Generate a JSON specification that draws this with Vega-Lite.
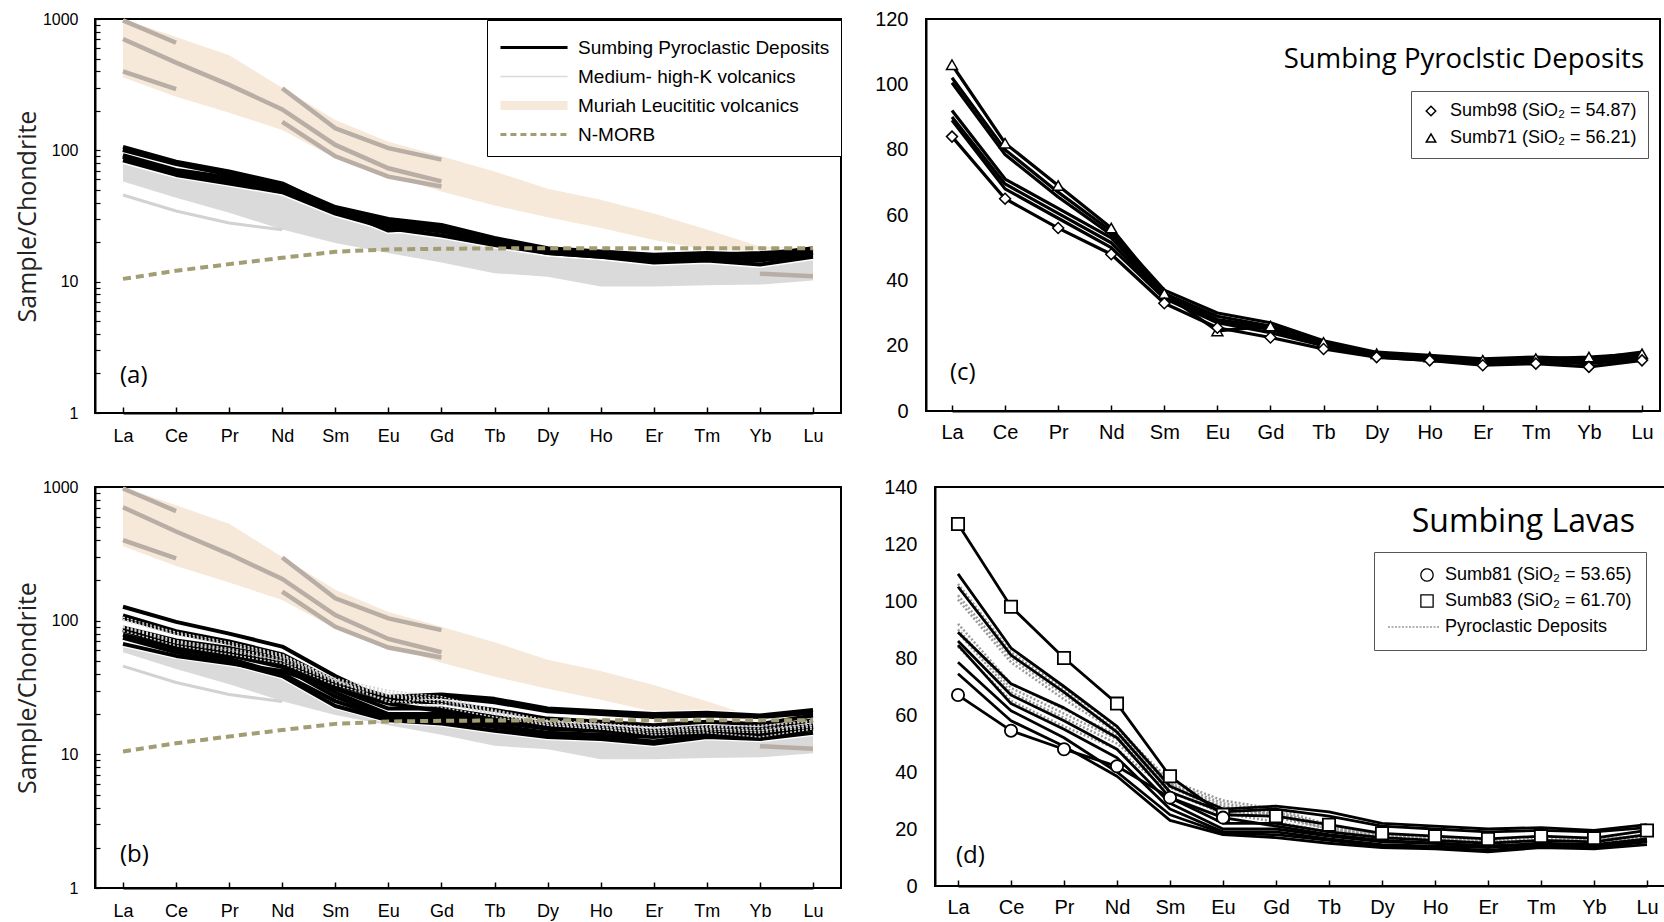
{
"$schema":"https://vega.github.io/schema/vega-lite/v6.json",
"background":"white",
"padding":{"left":14,"top":8,"right":0,"bottom":0},
"datasets":{
"muriahBand":[{"el":"La","lo":360,"hi":1000},{"el":"Ce","lo":256,"hi":730},{"el":"Pr","lo":193,"hi":530},{"el":"Nd","lo":143,"hi":300},{"el":"Sm","lo":87,"hi":170},{"el":"Eu","lo":65,"hi":116},{"el":"Gd","lo":48.5,"hi":90},{"el":"Tb","lo":38,"hi":69},{"el":"Dy","lo":31,"hi":51},{"el":"Ho","lo":25.6,"hi":42},{"el":"Er","lo":20.8,"hi":33},{"el":"Tm","lo":17.4,"hi":25},{"el":"Yb","lo":13.9,"hi":18.5},{"el":"Lu","lo":10.9,"hi":18}],
"mhkBand":[{"el":"La","lo":58,"hi":84},{"el":"Ce","lo":43.5,"hi":68},{"el":"Pr","lo":33.5,"hi":58},{"el":"Nd","lo":25,"hi":47},{"el":"Sm","lo":19.7,"hi":34},{"el":"Eu","lo":16.5,"hi":27},{"el":"Gd","lo":14,"hi":24},{"el":"Tb","lo":11.6,"hi":20},{"el":"Dy","lo":10.9,"hi":17.5},{"el":"Ho","lo":9.2,"hi":16.5},{"el":"Er","lo":9.2,"hi":15.5},{"el":"Tm","lo":9.4,"hi":15.5},{"el":"Yb","lo":9.5,"hi":15},{"el":"Lu","lo":10.2,"hi":16}],
"mhkLine":[{"el":"La","v":45.7},{"el":"Ce","v":34.5},{"el":"Pr","v":28},{"el":"Nd","v":24.8}],
"muriahLines":[{"s":"A","el":"La","v":975},{"s":"A","el":"Ce","v":660},
{"s":"B","el":"La","v":705},{"s":"B","el":"Ce","v":465},{"s":"B","el":"Pr","v":315},{"s":"B","el":"Nd","v":205},{"s":"B","el":"Sm","v":110},{"s":"B","el":"Eu","v":73},{"s":"B","el":"Gd","v":58},
{"s":"C","el":"La","v":400},{"s":"C","el":"Ce","v":292},
{"s":"D","el":"Nd","v":297},{"s":"D","el":"Sm","v":147},{"s":"D","el":"Eu","v":104},{"s":"D","el":"Gd","v":85},
{"s":"E","el":"Nd","v":165},{"s":"E","el":"Sm","v":90},{"s":"E","el":"Eu","v":63},{"s":"E","el":"Gd","v":53},
{"s":"F","el":"Yb","v":11.5},{"s":"F","el":"Lu","v":11}],
"nmorb":[{"el":"La","v":10.5},{"el":"Ce","v":12.1},{"el":"Pr","v":13.6},{"el":"Nd","v":15.2},{"el":"Sm","v":16.9},{"el":"Eu","v":17.6},{"el":"Gd","v":17.8},{"el":"Tb","v":17.9},{"el":"Dy","v":18},{"el":"Ho","v":18},{"el":"Er","v":18},{"el":"Tm","v":18},{"el":"Yb","v":18},{"el":"Lu","v":18}],
"pyro":[
{"s":"Sumb71 (SiO₂ = 56.21)","el":"La","v":106},{"s":"Sumb71 (SiO₂ = 56.21)","el":"Ce","v":82},{"s":"Sumb71 (SiO₂ = 56.21)","el":"Pr","v":69},{"s":"Sumb71 (SiO₂ = 56.21)","el":"Nd","v":56},{"s":"Sumb71 (SiO₂ = 56.21)","el":"Sm","v":36},{"s":"Sumb71 (SiO₂ = 56.21)","el":"Eu","v":24.5},{"s":"Sumb71 (SiO₂ = 56.21)","el":"Gd","v":26},{"s":"Sumb71 (SiO₂ = 56.21)","el":"Tb","v":21},{"s":"Sumb71 (SiO₂ = 56.21)","el":"Dy","v":17.5},{"s":"Sumb71 (SiO₂ = 56.21)","el":"Ho","v":16.5},{"s":"Sumb71 (SiO₂ = 56.21)","el":"Er","v":15.5},{"s":"Sumb71 (SiO₂ = 56.21)","el":"Tm","v":16},{"s":"Sumb71 (SiO₂ = 56.21)","el":"Yb","v":16.5},{"s":"Sumb71 (SiO₂ = 56.21)","el":"Lu","v":17.5},
{"s":"P2","el":"La","v":102},{"s":"P2","el":"Ce","v":80},{"s":"P2","el":"Pr","v":67},{"s":"P2","el":"Nd","v":55},{"s":"P2","el":"Sm","v":37},{"s":"P2","el":"Eu","v":30},{"s":"P2","el":"Gd","v":27},{"s":"P2","el":"Tb","v":21.5},{"s":"P2","el":"Dy","v":18},{"s":"P2","el":"Ho","v":17},{"s":"P2","el":"Er","v":16},{"s":"P2","el":"Tm","v":16.5},{"s":"P2","el":"Yb","v":16},{"s":"P2","el":"Lu","v":18},
{"s":"P3","el":"La","v":100.5},{"s":"P3","el":"Ce","v":78.5},{"s":"P3","el":"Pr","v":65.5},{"s":"P3","el":"Nd","v":54},{"s":"P3","el":"Sm","v":36},{"s":"P3","el":"Eu","v":29},{"s":"P3","el":"Gd","v":26},{"s":"P3","el":"Tb","v":21},{"s":"P3","el":"Dy","v":17.5},{"s":"P3","el":"Ho","v":16.5},{"s":"P3","el":"Er","v":15.5},{"s":"P3","el":"Tm","v":16},{"s":"P3","el":"Yb","v":15.5},{"s":"P3","el":"Lu","v":17},
{"s":"P4","el":"La","v":92},{"s":"P4","el":"Ce","v":71},{"s":"P4","el":"Pr","v":62},{"s":"P4","el":"Nd","v":53},{"s":"P4","el":"Sm","v":35.5},{"s":"P4","el":"Eu","v":28},{"s":"P4","el":"Gd","v":25.5},{"s":"P4","el":"Tb","v":20.5},{"s":"P4","el":"Dy","v":17},{"s":"P4","el":"Ho","v":16},{"s":"P4","el":"Er","v":15},{"s":"P4","el":"Tm","v":15.5},{"s":"P4","el":"Yb","v":15},{"s":"P4","el":"Lu","v":16.5},
{"s":"P5","el":"La","v":90},{"s":"P5","el":"Ce","v":69.5},{"s":"P5","el":"Pr","v":60.5},{"s":"P5","el":"Nd","v":51.5},{"s":"P5","el":"Sm","v":35},{"s":"P5","el":"Eu","v":27.5},{"s":"P5","el":"Gd","v":25},{"s":"P5","el":"Tb","v":20},{"s":"P5","el":"Dy","v":17},{"s":"P5","el":"Ho","v":16},{"s":"P5","el":"Er","v":15},{"s":"P5","el":"Tm","v":15.5},{"s":"P5","el":"Yb","v":15},{"s":"P5","el":"Lu","v":16.5},
{"s":"P6","el":"La","v":89},{"s":"P6","el":"Ce","v":68},{"s":"P6","el":"Pr","v":59},{"s":"P6","el":"Nd","v":50},{"s":"P6","el":"Sm","v":34.5},{"s":"P6","el":"Eu","v":27},{"s":"P6","el":"Gd","v":24},{"s":"P6","el":"Tb","v":20},{"s":"P6","el":"Dy","v":16.5},{"s":"P6","el":"Ho","v":15.5},{"s":"P6","el":"Er","v":14.5},{"s":"P6","el":"Tm","v":15},{"s":"P6","el":"Yb","v":14.5},{"s":"P6","el":"Lu","v":16},
{"s":"Sumb98 (SiO₂ = 54.87)","el":"La","v":84},{"s":"Sumb98 (SiO₂ = 54.87)","el":"Ce","v":65},{"s":"Sumb98 (SiO₂ = 54.87)","el":"Pr","v":56},{"s":"Sumb98 (SiO₂ = 54.87)","el":"Nd","v":48},{"s":"Sumb98 (SiO₂ = 54.87)","el":"Sm","v":33},{"s":"Sumb98 (SiO₂ = 54.87)","el":"Eu","v":25.5},{"s":"Sumb98 (SiO₂ = 54.87)","el":"Gd","v":22.5},{"s":"Sumb98 (SiO₂ = 54.87)","el":"Tb","v":19},{"s":"Sumb98 (SiO₂ = 54.87)","el":"Dy","v":16.5},{"s":"Sumb98 (SiO₂ = 54.87)","el":"Ho","v":15.5},{"s":"Sumb98 (SiO₂ = 54.87)","el":"Er","v":14},{"s":"Sumb98 (SiO₂ = 54.87)","el":"Tm","v":14.5},{"s":"Sumb98 (SiO₂ = 54.87)","el":"Yb","v":13.5},{"s":"Sumb98 (SiO₂ = 54.87)","el":"Lu","v":15.5}],
"lava":[
{"s":"Sumb83 (SiO₂ = 61.70)","el":"La","v":127},{"s":"Sumb83 (SiO₂ = 61.70)","el":"Ce","v":98},{"s":"Sumb83 (SiO₂ = 61.70)","el":"Pr","v":80},{"s":"Sumb83 (SiO₂ = 61.70)","el":"Nd","v":64},{"s":"Sumb83 (SiO₂ = 61.70)","el":"Sm","v":38.5},{"s":"Sumb83 (SiO₂ = 61.70)","el":"Eu","v":25},{"s":"Sumb83 (SiO₂ = 61.70)","el":"Gd","v":24.5},{"s":"Sumb83 (SiO₂ = 61.70)","el":"Tb","v":21.5},{"s":"Sumb83 (SiO₂ = 61.70)","el":"Dy","v":18.5},{"s":"Sumb83 (SiO₂ = 61.70)","el":"Ho","v":17.5},{"s":"Sumb83 (SiO₂ = 61.70)","el":"Er","v":16.5},{"s":"Sumb83 (SiO₂ = 61.70)","el":"Tm","v":17.5},{"s":"Sumb83 (SiO₂ = 61.70)","el":"Yb","v":16.8},{"s":"Sumb83 (SiO₂ = 61.70)","el":"Lu","v":19.5},
{"s":"L2","el":"La","v":109.5},{"s":"L2","el":"Ce","v":83.5},{"s":"L2","el":"Pr","v":70},{"s":"L2","el":"Nd","v":56},{"s":"L2","el":"Sm","v":35},{"s":"L2","el":"Eu","v":27},{"s":"L2","el":"Gd","v":28},{"s":"L2","el":"Tb","v":26},{"s":"L2","el":"Dy","v":22},{"s":"L2","el":"Ho","v":21},{"s":"L2","el":"Er","v":20},{"s":"L2","el":"Tm","v":20.5},{"s":"L2","el":"Yb","v":19.5},{"s":"L2","el":"Lu","v":21.5},
{"s":"L3","el":"La","v":105},{"s":"L3","el":"Ce","v":81},{"s":"L3","el":"Pr","v":68},{"s":"L3","el":"Nd","v":54},{"s":"L3","el":"Sm","v":33},{"s":"L3","el":"Eu","v":26},{"s":"L3","el":"Gd","v":27},{"s":"L3","el":"Tb","v":24.5},{"s":"L3","el":"Dy","v":21},{"s":"L3","el":"Ho","v":20},{"s":"L3","el":"Er","v":19},{"s":"L3","el":"Tm","v":19.5},{"s":"L3","el":"Yb","v":19},{"s":"L3","el":"Lu","v":20.5},
{"s":"L4","el":"La","v":89},{"s":"L4","el":"Ce","v":71},{"s":"L4","el":"Pr","v":62.5},{"s":"L4","el":"Nd","v":52},{"s":"L4","el":"Sm","v":31},{"s":"L4","el":"Eu","v":22},{"s":"L4","el":"Gd","v":22},{"s":"L4","el":"Tb","v":19},{"s":"L4","el":"Dy","v":17},{"s":"L4","el":"Ho","v":16},{"s":"L4","el":"Er","v":15},{"s":"L4","el":"Tm","v":16},{"s":"L4","el":"Yb","v":15.5},{"s":"L4","el":"Lu","v":18},
{"s":"L5","el":"La","v":86},{"s":"L5","el":"Ce","v":67},{"s":"L5","el":"Pr","v":58},{"s":"L5","el":"Nd","v":48},{"s":"L5","el":"Sm","v":29},{"s":"L5","el":"Eu","v":20},{"s":"L5","el":"Gd","v":20},{"s":"L5","el":"Tb","v":17.5},{"s":"L5","el":"Dy","v":15.5},{"s":"L5","el":"Ho","v":15},{"s":"L5","el":"Er","v":14},{"s":"L5","el":"Tm","v":15},{"s":"L5","el":"Yb","v":14.5},{"s":"L5","el":"Lu","v":16.5},
{"s":"L6","el":"La","v":84.5},{"s":"L6","el":"Ce","v":64},{"s":"L6","el":"Pr","v":55},{"s":"L6","el":"Nd","v":45},{"s":"L6","el":"Sm","v":27},{"s":"L6","el":"Eu","v":19},{"s":"L6","el":"Gd","v":19},{"s":"L6","el":"Tb","v":16.5},{"s":"L6","el":"Dy","v":14.5},{"s":"L6","el":"Ho","v":14},{"s":"L6","el":"Er","v":13.5},{"s":"L6","el":"Tm","v":14.5},{"s":"L6","el":"Yb","v":14},{"s":"L6","el":"Lu","v":16},
{"s":"L7","el":"La","v":78.5},{"s":"L7","el":"Ce","v":61.5},{"s":"L7","el":"Pr","v":52},{"s":"L7","el":"Nd","v":40},{"s":"L7","el":"Sm","v":25},{"s":"L7","el":"Eu","v":18.5},{"s":"L7","el":"Gd","v":18},{"s":"L7","el":"Tb","v":16},{"s":"L7","el":"Dy","v":14},{"s":"L7","el":"Ho","v":13.5},{"s":"L7","el":"Er","v":12.5},{"s":"L7","el":"Tm","v":14},{"s":"L7","el":"Yb","v":13.5},{"s":"L7","el":"Lu","v":15.5},
{"s":"L8","el":"La","v":74.5},{"s":"L8","el":"Ce","v":58},{"s":"L8","el":"Pr","v":49},{"s":"L8","el":"Nd","v":38.5},{"s":"L8","el":"Sm","v":23},{"s":"L8","el":"Eu","v":18},{"s":"L8","el":"Gd","v":17},{"s":"L8","el":"Tb","v":15},{"s":"L8","el":"Dy","v":13.5},{"s":"L8","el":"Ho","v":13},{"s":"L8","el":"Er","v":12},{"s":"L8","el":"Tm","v":13.5},{"s":"L8","el":"Yb","v":13},{"s":"L8","el":"Lu","v":14.5},
{"s":"Sumb81 (SiO₂ = 53.65)","el":"La","v":67},{"s":"Sumb81 (SiO₂ = 53.65)","el":"Ce","v":54.5},{"s":"Sumb81 (SiO₂ = 53.65)","el":"Pr","v":48},{"s":"Sumb81 (SiO₂ = 53.65)","el":"Nd","v":42},{"s":"Sumb81 (SiO₂ = 53.65)","el":"Sm","v":31},{"s":"Sumb81 (SiO₂ = 53.65)","el":"Eu","v":24},{"s":"Sumb81 (SiO₂ = 53.65)","el":"Gd","v":21},{"s":"Sumb81 (SiO₂ = 53.65)","el":"Tb","v":18},{"s":"Sumb81 (SiO₂ = 53.65)","el":"Dy","v":16},{"s":"Sumb81 (SiO₂ = 53.65)","el":"Ho","v":15},{"s":"Sumb81 (SiO₂ = 53.65)","el":"Er","v":14},{"s":"Sumb81 (SiO₂ = 53.65)","el":"Tm","v":14.5},{"s":"Sumb81 (SiO₂ = 53.65)","el":"Yb","v":14},{"s":"Sumb81 (SiO₂ = 53.65)","el":"Lu","v":16}]
},
"spacing":30,
"resolve":{"scale":{"color":"independent","shape":"independent"},"legend":{"color":"independent","shape":"independent"}},
"vconcat":[
{"spacing":30,
"resolve":{"scale":{"color":"independent","shape":"independent"},"legend":{"color":"independent","shape":"independent"}},
"hconcat":[
{"width":746,"height":394,
"encoding":{"x":{"field":"el","type":"nominal","sort":["La","Ce","Pr","Nd","Sm","Eu","Gd","Tb","Dy","Ho","Er","Tm","Yb","Lu"],"scale":{"type":"point","padding":0,"domain":["La","Ce","Pr","Nd","Sm","Eu","Gd","Tb","Dy","Ho","Er","Tm","Yb","Lu"],"range":[28,718]},"axis":{"title":null,"labelAngle":0,"tickSize":-6,"tickWidth":1.5,"labelPadding":20,"labelFontSize":18}}},
"layer":[
{"data":{"name":"muriahBand"},"mark":{"type":"area","color":"#f7e9d9"},"encoding":{"y":{"field":"hi","type":"quantitative","title":"Sample/Chondrite","scale":{"type":"log","domain":[1,1000],"nice":false},"axis":{"values":[1,2,3,4,5,6,7,8,9,10,20,30,40,50,60,70,80,90,100,200,300,400,500,600,700,800,900,1000],"labelExpr":"(datum.value==1||datum.value==10||datum.value==100||datum.value==1000)?(''+datum.value):''","labelOverlap":false,"tickSize":-5,"tickWidth":1.2,"labelPadding":22,"labelFontSize":16,"titleFont":"Open Sans","titleFontSize":25,"titleFontWeight":"normal","titlePadding":2,"titleColor":"#222"}},"y2":{"field":"lo"}}},
{"data":{"name":"mhkBand"},"mark":{"type":"area","color":"#dadada"},"encoding":{"y":{"field":"hi","type":"quantitative","title":"Sample/Chondrite"},"y2":{"field":"lo"}}},
{"data":{"name":"mhkLine"},"mark":{"type":"line","color":"#d2d2d2","strokeWidth":3},"encoding":{"y":{"field":"v","type":"quantitative","title":"Sample/Chondrite"}}},
{"data":{"name":"muriahLines"},"mark":{"type":"line","color":"#b8aea5","strokeWidth":4.5},"encoding":{"y":{"field":"v","type":"quantitative","title":"Sample/Chondrite"},"detail":{"field":"s"}}},
{"data":{"name":"pyro"},"mark":{"type":"line","color":"white","strokeWidth":7,"strokeJoin":"round"},"encoding":{"y":{"field":"v","type":"quantitative","title":"Sample/Chondrite"},"detail":{"field":"s"}}},
{"data":{"name":"pyro"},"mark":{"type":"line","strokeJoin":"round","strokeWidth":4},"encoding":{"y":{"field":"v","type":"quantitative","title":"Sample/Chondrite"},"detail":{"field":"s"},
"color":{"datum":"Sumbing Pyroclastic Deposits","scale":{"domain":["Sumbing Pyroclastic Deposits","Medium- high-K volcanics","Muriah Leucititic volcanics","N-MORB"],"range":["#000000","#d9d9d9","#f7e9d9","#a39d74"]},"legend":{"title":" ","titleFontSize":2,"titlePadding":4,"orient":"none","legendX":392,"legendY":1,"symbolType":"stroke","symbolSize":400,"clipHeight":21,"labelOffset":61,"labelFontSize":19,"strokeColor":"black","fillColor":"white","padding":11,"rowPadding":8,
"encode":{"symbols":{"update":{"size":{"value":4500},"x":{"value":36},"stroke":{"signal":"datum.value==='N-MORB' ? '#a39d74' : datum.value==='Muriah Leucititic volcanics' ? '#f5e4d0' : datum.value==='Medium- high-K volcanics' ? '#d6d6d6' : '#111111'"},"strokeDash":{"signal":"datum.value==='N-MORB' ? [6,4] : [1,0]"},"strokeWidth":{"signal":"datum.value==='Muriah Leucititic volcanics' ? 9 : datum.value==='Medium- high-K volcanics' ? 1.5 : 3"}}}}}}}},
{"data":{"name":"nmorb"},"mark":{"type":"line","color":"#a39d74","strokeWidth":4,"strokeDash":[8,5]},"encoding":{"y":{"field":"v","type":"quantitative","title":"Sample/Chondrite"}}},
{"data":{"values":[{}]},"mark":{"type":"text","text":"(a)","font":"Open Sans","fontSize":24,"align":"left","baseline":"middle","dx":-3},"encoding":{"x":{"datum":"La"},"y":{"datum":1.9}}}
]},
{"width":734,"height":392,
"encoding":{"x":{"field":"el","type":"nominal","sort":["La","Ce","Pr","Nd","Sm","Eu","Gd","Tb","Dy","Ho","Er","Tm","Yb","Lu"],"scale":{"type":"point","padding":0,"domain":["La","Ce","Pr","Nd","Sm","Eu","Gd","Tb","Dy","Ho","Er","Tm","Yb","Lu"],"range":[26,716]},"axis":{"title":null,"labelAngle":0,"tickSize":-6,"tickWidth":1.5,"labelPadding":17,"labelFontSize":20}}},
"layer":[
{"data":{"name":"pyro"},"mark":{"type":"line","color":"white","strokeWidth":6,"strokeJoin":"round"},"encoding":{"y":{"field":"v","type":"quantitative","title":null,"scale":{"domain":[0,120],"nice":false},"axis":{"values":[0,20,40,60,80,100,120],"ticks":false,"labelPadding":18,"labelFontSize":20}},"detail":{"field":"s"}}},
{"data":{"name":"pyro"},"mark":{"type":"line","color":"black","strokeWidth":3.2,"strokeJoin":"round"},"encoding":{"y":{"field":"v","type":"quantitative","title":null},"detail":{"field":"s"}}},
{"data":{"name":"pyro"},"transform":[{"filter":{"field":"s","oneOf":["Sumb98 (SiO₂ = 54.87)","Sumb71 (SiO₂ = 56.21)"]}}],"mark":{"type":"point","filled":true,"fill":"white","stroke":"black","strokeWidth":1.5,"size":120,"opacity":1},"encoding":{"y":{"field":"v","type":"quantitative","title":null},
"shape":{"field":"s","type":"nominal","scale":{"domain":["Sumb98 (SiO₂ = 54.87)","Sumb71 (SiO₂ = 56.21)"],"range":["diamond","triangle-up"]},"legend":{"title":null,"orient":"none","legendX":485,"legendY":72,"labelFontSize":18,"strokeColor":"#555","fillColor":"white","padding":11,"rowPadding":9,"symbolSize":90,"labelOffset":10,
"encode":{"symbols":{"update":{"fill":{"value":"white"},"stroke":{"value":"black"},"strokeWidth":{"value":1.2},"opacity":{"value":1}}}}}}}},
{"data":{"values":[{}]},"mark":{"type":"text","text":"Sumbing Pyroclstic Deposits","font":"Open Sans","fontSize":27.5,"align":"right","baseline":"middle","dx":2},"encoding":{"x":{"datum":"Lu"},"y":{"datum":107.3}}},
{"data":{"values":[{}]},"mark":{"type":"text","text":"(c)","font":"Open Sans","fontSize":24,"align":"left","baseline":"middle","dx":-2},"encoding":{"x":{"datum":"La"},"y":{"datum":11.5}}}
]}
]},
{"spacing":40,
"resolve":{"scale":{"color":"independent","shape":"independent"},"legend":{"color":"independent","shape":"independent"}},
"hconcat":[
{"width":746,"height":401,
"encoding":{"x":{"field":"el","type":"nominal","sort":["La","Ce","Pr","Nd","Sm","Eu","Gd","Tb","Dy","Ho","Er","Tm","Yb","Lu"],"scale":{"type":"point","padding":0,"domain":["La","Ce","Pr","Nd","Sm","Eu","Gd","Tb","Dy","Ho","Er","Tm","Yb","Lu"],"range":[28,718]},"axis":{"title":null,"labelAngle":0,"tickSize":-6,"tickWidth":1.5,"labelPadding":20,"labelFontSize":18}}},
"layer":[
{"data":{"name":"muriahBand"},"mark":{"type":"area","color":"#f7e9d9"},"encoding":{"y":{"field":"hi","type":"quantitative","title":"Sample/Chondrite","scale":{"type":"log","domain":[1,1000],"nice":false},"axis":{"values":[1,2,3,4,5,6,7,8,9,10,20,30,40,50,60,70,80,90,100,200,300,400,500,600,700,800,900,1000],"labelExpr":"(datum.value==1||datum.value==10||datum.value==100||datum.value==1000)?(''+datum.value):''","labelOverlap":false,"tickSize":-5,"tickWidth":1.2,"labelPadding":22,"labelFontSize":16,"titleFont":"Open Sans","titleFontSize":25,"titleFontWeight":"normal","titlePadding":2,"titleColor":"#222"}},"y2":{"field":"lo"}}},
{"data":{"name":"mhkBand"},"mark":{"type":"area","color":"#dadada"},"encoding":{"y":{"field":"hi","type":"quantitative","title":"Sample/Chondrite"},"y2":{"field":"lo"}}},
{"data":{"name":"mhkLine"},"mark":{"type":"line","color":"#d2d2d2","strokeWidth":3},"encoding":{"y":{"field":"v","type":"quantitative","title":"Sample/Chondrite"}}},
{"data":{"name":"muriahLines"},"mark":{"type":"line","color":"#b8aea5","strokeWidth":4.5},"encoding":{"y":{"field":"v","type":"quantitative","title":"Sample/Chondrite"},"detail":{"field":"s"}}},
{"data":{"name":"lava"},"mark":{"type":"line","color":"white","strokeWidth":6.5,"strokeJoin":"round"},"encoding":{"y":{"field":"v","type":"quantitative","title":"Sample/Chondrite"},"detail":{"field":"s"}}},
{"data":{"name":"lava"},"mark":{"type":"line","color":"black","strokeWidth":4,"strokeJoin":"round"},"encoding":{"y":{"field":"v","type":"quantitative","title":"Sample/Chondrite"},"detail":{"field":"s"}}},
{"data":{"name":"pyro"},"mark":{"type":"line","color":"#d4d4d4","strokeWidth":1.5,"strokeDash":[2,2]},"encoding":{"y":{"field":"v","type":"quantitative","title":"Sample/Chondrite"},"detail":{"field":"s"}}},
{"data":{"name":"nmorb"},"mark":{"type":"line","color":"#a39d74","strokeWidth":4,"strokeDash":[8,5]},"encoding":{"y":{"field":"v","type":"quantitative","title":"Sample/Chondrite"}}},
{"data":{"values":[{}]},"mark":{"type":"text","text":"(b)","font":"Open Sans","fontSize":24,"align":"left","baseline":"middle","dx":-3},"encoding":{"x":{"datum":"La"},"y":{"datum":1.76}}}
]},
{"width":734,"height":399,
"encoding":{"x":{"field":"el","type":"nominal","sort":["La","Ce","Pr","Nd","Sm","Eu","Gd","Tb","Dy","Ho","Er","Tm","Yb","Lu"],"scale":{"type":"point","padding":0,"domain":["La","Ce","Pr","Nd","Sm","Eu","Gd","Tb","Dy","Ho","Er","Tm","Yb","Lu"],"range":[23,712]},"axis":{"title":null,"labelAngle":0,"tickSize":-6,"tickWidth":1.5,"labelPadding":17,"labelFontSize":20}}},
"layer":[
{"data":{"name":"lava"},"mark":{"type":"line","color":"white","strokeWidth":5.5,"strokeJoin":"round"},"encoding":{"y":{"field":"v","type":"quantitative","title":null,"scale":{"domain":[0,140],"nice":false},"axis":{"values":[0,20,40,60,80,100,120,140],"ticks":false,"labelPadding":18,"labelFontSize":20}},"detail":{"field":"s"}}},
{"data":{"name":"pyro"},"mark":{"type":"line","strokeWidth":2.5,"strokeDash":[2,2]},"encoding":{"y":{"field":"v","type":"quantitative","title":null},"detail":{"field":"s"},
"color":{"datum":"Pyroclastic Deposits","scale":{"domain":["Sumb81 (SiO₂ = 53.65)","Sumb83 (SiO₂ = 61.70)","Pyroclastic Deposits"],"range":["#000000","#000000","#9a9a9a"]},"legend":{"title":null,"orient":"none","legendX":439,"legendY":65,"symbolType":"circle","symbolSize":150,"clipHeight":18,"labelOffset":39,"labelFontSize":18,"strokeColor":"#555","fillColor":"white","padding":14,"rowPadding":8,
"encode":{"symbols":{"update":{"shape":{"signal":"datum.value==='Pyroclastic Deposits' ? 'stroke' : (indexof(datum.value,'Sumb83')>=0 ? 'square' : 'circle')"},"size":{"signal":"datum.value==='Pyroclastic Deposits' ? 3025 : 150"},"x":{"signal":"datum.value==='Pyroclastic Deposits' ? 24 : 39"},"fill":{"value":"white"},"stroke":{"signal":"datum.value==='Pyroclastic Deposits' ? '#666666' : '#000000'"},"strokeDash":{"signal":"datum.value==='Pyroclastic Deposits' ? [2,1.5] : [1,0]"},"strokeWidth":{"signal":"datum.value==='Pyroclastic Deposits' ? 1.6 : 1.3"},"opacity":{"value":1}}}}}}}},
{"data":{"name":"lava"},"mark":{"type":"line","color":"black","strokeWidth":2.8,"strokeJoin":"round"},"encoding":{"y":{"field":"v","type":"quantitative","title":null},"detail":{"field":"s"}}},
{"data":{"name":"lava"},"transform":[{"filter":{"field":"s","equal":"Sumb83 (SiO₂ = 61.70)"}}],"mark":{"type":"point","shape":"square","filled":true,"fill":"white","stroke":"black","strokeWidth":1.8,"opacity":1,"size":150},"encoding":{"y":{"field":"v","type":"quantitative","title":null}}},
{"data":{"name":"lava"},"transform":[{"filter":{"field":"s","equal":"Sumb81 (SiO₂ = 53.65)"}},{"filter":{"field":"el","oneOf":["La","Ce","Pr","Nd","Sm","Eu"]}}],"mark":{"type":"point","shape":"circle","filled":true,"fill":"white","stroke":"black","strokeWidth":1.8,"opacity":1,"size":150},"encoding":{"y":{"field":"v","type":"quantitative","title":null}}},
{"data":{"values":[{}]},"mark":{"type":"text","text":"Sumbing Lavas","font":"Open Sans","fontSize":32,"align":"right","baseline":"middle","dx":-12},"encoding":{"x":{"datum":"Lu"},"y":{"datum":127.7}}},
{"data":{"values":[{}]},"mark":{"type":"text","text":"(d)","font":"Open Sans","fontSize":24,"align":"left","baseline":"middle","dx":-2},"encoding":{"x":{"datum":"La"},"y":{"datum":10.5}}}
]}
]}
],
"config":{
"view":{"stroke":"black","strokeWidth":2},
"font":"Liberation Sans",
"axis":{"domainColor":"black","domainWidth":2,"tickColor":"black","labelColor":"black","grid":false,"labelFont":"Liberation Sans"},
"legend":{"labelFont":"Liberation Sans","labelColor":"black","labelLimit":400}
}
}
